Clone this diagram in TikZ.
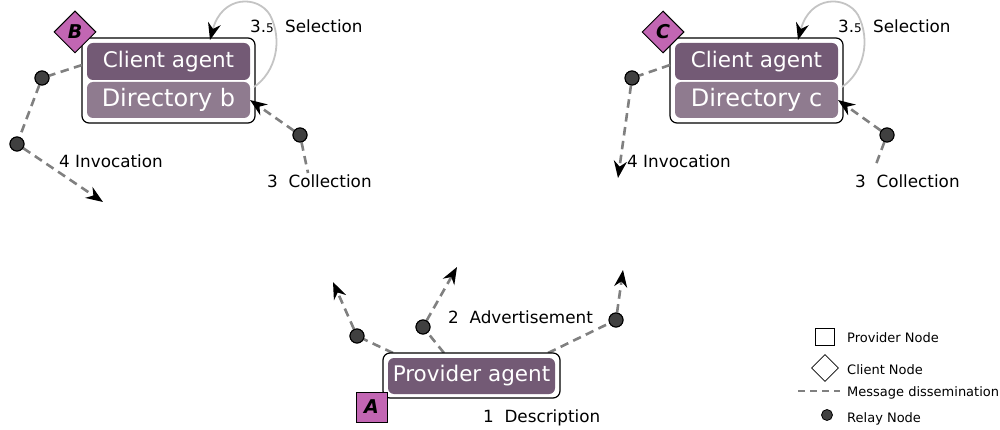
\documentclass[tikz,border=0pt]{standalone}
\usepackage{fontspec}
\setmainfont{DejaVu Sans}
\usetikzlibrary{shapes.geometric,arrows.meta}
\definecolor{agentdark}{HTML}{735A75}
\definecolor{agentlight}{HTML}{8F7B8F}
\definecolor{nodepink}{HTML}{C266B3}
\definecolor{dashgray}{HTML}{808080}
\definecolor{loopgray}{HTML}{C4C4C4}
\definecolor{relayfill}{HTML}{404040}
\begin{document}
\begin{tikzpicture}[x=1pt,y=-1pt,
  outerbox/.style={draw=black, line width=1.2pt, rounded corners=7pt, fill=white, inner sep=0pt},
  agentbox/.style={fill=agentdark, rounded corners=6pt, text=white, inner sep=0pt,
     minimum width=163pt, minimum height=37pt, font=\fontsize{21.5}{24}\selectfont},
  dirbox/.style={fill=agentlight, rounded corners=6pt, text=white, inner sep=0pt,
     minimum width=163pt, minimum height=36pt, font=\fontsize{24}{26}\selectfont},
  clientnode/.style={diamond, draw=black, line width=1pt, fill=nodepink, inner sep=0pt,
     minimum width=42pt, minimum height=42pt, font=\fontsize{19}{20}\selectfont\bfseries\itshape},
  providernode/.style={rectangle, draw=black, line width=1pt, fill=nodepink, inner sep=0pt,
     minimum width=31pt, minimum height=30pt, font=\fontsize{19}{20}\selectfont\bfseries\itshape},
  relay/.style={circle, draw=black, line width=1pt, fill=relayfill, inner sep=0pt, minimum size=14pt},
  msg/.style={draw=dashgray, line width=2.6pt, dash pattern=on 8.5pt off 5.5pt},
  tip/.style={-{Stealth[length=17pt,width=13pt,inset=5.5pt,color=black]}},
  loop/.style={draw=loopgray, line width=1.8pt},
  lbl/.style={anchor=base west, inner sep=0pt, font=\fontsize{16.8}{18}\selectfont},
  leg/.style={anchor=base west, inner sep=0pt, font=\fontsize{13}{14}\selectfont},
]
\useasboundingbox (0,0) rectangle (1000,430);

% ---------- group B ----------
\node[outerbox, minimum width=173pt, minimum height=85pt] (Bout) at (168.5,80.5) {};
\node[agentbox] (Bagent) at (168.5,61.5) {Client agent};
\node[dirbox] (Bdir) at (168.5,100) {Directory b};
\node[clientnode] (Bnode) at (75,32) {B};

\node[relay] (rB1) at (42,78) {};
\node[relay] (rB2) at (17,144) {};
\node[relay] (rB3) at (300,135) {};
\coordinate (bL) at (82,65);
\coordinate (bInv) at (103,202);
\coordinate (bDir) at (250,100);
\coordinate (bCol) at (308,173);
\coordinate (bLoopS) at (254,87);
\coordinate (bLoopM) at (270,15);
\coordinate (bLoopE) at (210,40);

\draw[msg] (bL) -- (rB1);
\draw[msg] (rB1) -- (rB2);
\draw[msg,tip] (rB2) -- (bInv);
\draw[msg,tip] (rB3) -- (bDir);
\draw[msg] (rB3) -- (bCol);
\draw[loop,tip] (bLoopS) .. controls (276,72) and (283,40) .. (bLoopM) .. controls (258,-5) and (222,-5) .. (bLoopE);
\node[relay] at (rB1) {};
\node[relay] at (rB2) {};
\node[relay] at (rB3) {};

\node[lbl] (bSelNum) at (250,33) {3.{\fontsize{12}{12}\selectfont 5}};
\node[lbl] (bSel) at (285,33) {Selection};
\node[lbl] (bInvL) at (59,168) {4 Invocation};
\node[lbl] (bColL) at (267,188) {3\ \ Collection};

% ---------- group C ----------
\node[outerbox, minimum width=173pt, minimum height=85pt] (Cout) at (756.5,80.5) {};
\node[agentbox] (Cagent) at (756.5,61.5) {Client agent};
\node[dirbox] (Cdir) at (756.5,100) {Directory c};
\node[clientnode] (Cnode) at (663,32) {C};

\node[relay] (rC1) at (632,78) {};
\node[relay] (rC3) at (887,135) {};
\coordinate (cL) at (670,65);
\coordinate (cInv) at (618,178);
\coordinate (cDir) at (838,100);
\coordinate (cCol) at (875,167);
\coordinate (cLoopS) at (842,87);
\coordinate (cLoopM) at (858,15);
\coordinate (cLoopE) at (798,40);

\draw[msg] (cL) -- (rC1);
\draw[msg,tip] (rC1) -- (cInv);
\draw[msg,tip] (rC3) -- (cDir);
\draw[msg] (rC3) -- (cCol);
\draw[loop,tip] (cLoopS) .. controls (864,72) and (871,40) .. (cLoopM) .. controls (846,-5) and (810,-5) .. (cLoopE);
\node[relay] at (rC1) {};
\node[relay] at (rC3) {};

\node[lbl] (cSelNum) at (838,33) {3.{\fontsize{12}{12}\selectfont 5}};
\node[lbl] (cSel) at (873,33) {Selection};
\node[lbl] (cInvL) at (627,168) {4 Invocation};
\node[lbl] (cColL) at (855,188) {3\ \ Collection};

% ---------- provider A ----------
\coordinate (pT1) at (393,353);
\coordinate (pT2) at (444,353);
\coordinate (pT3) at (548,353);
\node[relay] (rP1) at (357,336) {};
\node[relay] (rP2) at (423,327) {};
\node[relay] (rP3) at (616,320) {};
\coordinate (pA1) at (333,282);
\coordinate (pA2) at (457,267);
\coordinate (pA3) at (623,270);
\draw[msg] (pT1) -- (rP1);
\draw[msg,tip] (rP1) -- (pA1);
\draw[msg] (pT2) -- (rP2);
\draw[msg,tip] (rP2) -- (pA2);
\draw[msg] (pT3) -- (rP3);
\draw[msg,tip] (rP3) -- (pA3);
\node[relay] at (rP1) {};
\node[relay] at (rP2) {};
\node[relay] at (rP3) {};

\node[outerbox, minimum width=177pt, minimum height=45pt] (Pout) at (471.5,375.5) {};
\node[agentbox, minimum width=167pt, minimum height=36pt] (Pagent) at (471.5,376) {Provider agent};
\node[providernode] (Anode) at (371.5,407) {A};

\node[lbl] (pAdv) at (448,323) {2\ \ Advertisement};
\node[lbl] (pDesc) at (483,422) {1\ \ Description};

% ---------- legend ----------
\node[rectangle, draw=black, line width=0.8pt, fill=white, minimum width=19pt, minimum height=17pt, inner sep=0pt] (legSq) at (825,336.5) {};
\node[diamond, draw=black, line width=0.8pt, fill=white, minimum width=27pt, minimum height=27pt, inner sep=0pt] (legDi) at (825,368) {};
\coordinate (legD1) at (798,391);
\coordinate (legD2) at (840,391);
\draw[draw=dashgray, line width=2pt, dash pattern=on 7pt off 5pt] (legD1) -- (legD2);
\node[circle, draw=black, line width=0.8pt, fill=relayfill, minimum size=11pt, inner sep=0pt] (legCi) at (827,415) {};
\node[leg] (legT1) at (847,342) {Provider Node};
\node[leg] (legT2) at (847,374) {Client Node};
\node[leg] (legT3) at (847,396) {Message dissemination};
\node[leg] (legT4) at (847,422) {Relay Node};
\end{tikzpicture}
\end{document}
